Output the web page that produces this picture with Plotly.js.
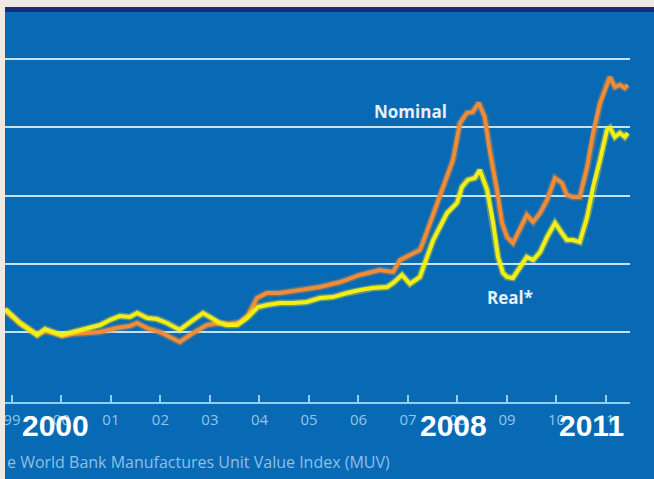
<!DOCTYPE html>
<html>
<head>
<meta charset="utf-8">
<script src="https://cdn.plot.ly/plotly-3.0.1.min.js"></script>
<style>
  html, body { margin: 0; padding: 0; background: #efe9df; width: 654px; height: 479px; overflow: hidden; }
  #strip { position: absolute; left: 5px; top: 7px; width: 649px; height: 5px; background: #1b2a7c; z-index: 2; }
  #chart { position: absolute; left: 5px; top: 7px; width: 649px; height: 472px; overflow: hidden; }
</style>
</head>
<body>
<div id="chart"></div>
<div id="strip"></div>
<script>
// Real* (yellow) series: decimal year, index value
const realYears = [1998.86,1999.16,1999.51,1999.67,1999.83,2000.01,2000.23,2000.52,2000.78,2000.98,2001.18,2001.38,2001.53,2001.73,2001.93,2002.13,2002.39,2002.60,2002.86,2003.00,2003.20,2003.34,2003.55,2003.75,2003.97,2004.15,2004.41,2004.68,2004.96,2005.22,2005.48,2005.77,2006.03,2006.29,2006.58,2006.70,2006.88,2007.04,2007.24,2007.51,2007.79,2007.99,2008.09,2008.21,2008.35,2008.45,2008.60,2008.72,2008.82,2008.92,2009.00,2009.12,2009.26,2009.40,2009.53,2009.67,2009.81,2009.97,2010.11,2010.21,2010.33,2010.47,2010.62,2010.74,2010.88,2011.02,2011.08,2011.18,2011.28,2011.38,2011.44];
const realValues = [116.8,106.6,97.8,102.2,100.0,97.8,100.0,102.9,105.1,108.8,111.7,111.0,113.9,110.3,109.5,106.6,101.5,107.3,113.9,111.0,106.6,105.1,105.1,110.3,118.3,119.8,121.2,121.2,122.0,124.9,125.6,128.6,130.8,132.2,133.0,135.9,141.8,135.2,140.3,167.4,187.2,194.5,206.2,211.4,212.8,218.7,204.0,179.9,154.9,143.2,140.3,139.6,147.6,154.9,152.7,158.6,169.6,179.9,172.5,167.4,167.4,165.9,184.2,206.2,226.0,248.0,249.5,242.9,245.8,242.9,245.8];

// Nominal (orange) series
const nomYears = [1998.86,1999.16,1999.51,1999.67,1999.83,2000.01,2000.23,2000.52,2000.78,2001.12,2001.38,2001.53,2001.73,2001.99,2002.19,2002.39,2002.66,2002.94,2003.20,2003.40,2003.61,2003.77,2003.95,2004.15,2004.41,2004.82,2005.22,2005.63,2006.03,2006.43,2006.70,2006.84,2007.04,2007.24,2007.30,2007.51,2007.71,2007.91,2008.05,2008.19,2008.31,2008.43,2008.55,2008.65,2008.80,2008.90,2009.00,2009.12,2009.26,2009.40,2009.53,2009.67,2009.81,2009.97,2010.11,2010.21,2010.33,2010.47,2010.62,2010.74,2010.88,2011.02,2011.08,2011.18,2011.28,2011.38,2011.44];
const nomValues = [116.1,106.6,97.8,100.7,99.3,97.1,98.5,99.3,100.0,102.9,104.4,106.6,102.9,100.0,96.3,92.7,99.3,105.1,106.6,105.9,107.3,112.5,124.9,128.6,128.6,130.8,133.0,136.6,141.8,145.4,144.0,152.7,156.4,160.1,165.2,187.2,206.2,226.0,253.1,260.4,261.2,267.8,257.5,233.3,204.0,179.9,169.6,165.2,174.7,185.7,180.6,187.2,196.7,212.8,209.2,200.4,198.9,198.9,220.9,245.8,267.8,282.4,286.8,279.5,281.0,278.8,281.0];

// Axis ticks
const tickYears = [1999,2000,2001,2002,2003,2004,2005,2006,2007,2008,2009,2010,2011];
const tickLabels = ['99','00','01','02','03','04','05','06','07','08','09','10','11'];
const gridValues = [100,150,200,250,300];

const blue = '#0869b5';
const traces = [
  {x: nomYears, y: nomValues, type: 'scatter', mode: 'lines',
   line: {color: 'rgba(240,140,50,0.35)', width: 7}, hoverinfo: 'skip'},
  {x: nomYears, y: nomValues, type: 'scatter', mode: 'lines', name: 'Nominal',
   line: {color: '#f08c35', width: 4}},
  {x: realYears, y: realValues, type: 'scatter', mode: 'lines',
   line: {color: 'rgba(245,240,20,0.35)', width: 7}, hoverinfo: 'skip'},
  {x: realYears, y: realValues, type: 'scatter', mode: 'lines', name: 'Real*',
   line: {color: '#f4ee14', width: 4}}
];

const bigFont = {family: 'Liberation Sans, Arial, sans-serif', size: 30, color: '#ffffff'};
const labelFont = {family: 'Open Sans, sans-serif', size: 17, color: '#e6effa'};
const layout = {
  width: 649, height: 472,
  margin: {l: 0, r: 24, t: 5, b: 77, pad: 0},
  paper_bgcolor: blue, plot_bgcolor: blue,
  showlegend: false,
  xaxis: {
    range: [1998.86, 2011.485], showgrid: false, zeroline: false,
    showline: true, linecolor: '#8fd0f2', linewidth: 2,
    tickmode: 'array', tickvals: tickYears, ticktext: tickLabels,
    ticks: 'inside', ticklen: 7, tickwidth: 2, tickcolor: '#8fd0f2',
    ticklabelstandoff: 3, ticklabeloverflow: 'allow',
    tickfont: {family: 'Open Sans, sans-serif', size: 15, color: '#8fc6ec'},
    fixedrange: true
  },
  yaxis: {
    range: [48.72, 334.43], showgrid: true, gridcolor: '#c4e2f7', gridwidth: 2,
    tickmode: 'array', tickvals: gridValues, showticklabels: false,
    zeroline: false, showline: false, ticks: '', fixedrange: true
  },
  annotations: [
    {x: 2007.06, y: 261.2, xref: 'x', yref: 'y', text: '<b>Nominal</b>', showarrow: false, font: labelFont},
    {x: 2009.06, y: 125.6, xref: 'x', yref: 'y', text: '<b>Real*</b>', showarrow: false, font: labelFont},
    {x: 1999.89, y: -0.059, xref: 'x', yref: 'paper', yanchor: 'middle', text: '<b>2000</b>', showarrow: false, font: bigFont},
    {x: 2007.91, y: -0.059, xref: 'x', yref: 'paper', yanchor: 'middle', text: '<b>2008</b>', showarrow: false, font: bigFont},
    {x: 2010.70, y: -0.059, xref: 'x', yref: 'paper', yanchor: 'middle', text: '<b>2011</b>', showarrow: false, font: bigFont},
    {x: 0, y: -0.154, xref: 'paper', yref: 'paper', xanchor: 'left', yanchor: 'middle',
     text: 'e World Bank Manufactures Unit Value Index (MUV)',
     showarrow: false, font: {family: 'Open Sans, sans-serif', size: 16, color: '#8fc0e6'}}
  ]
};

Plotly.newPlot('chart', traces, layout, {staticPlot: true, displayModeBar: false});
</script>
</body>
</html>
